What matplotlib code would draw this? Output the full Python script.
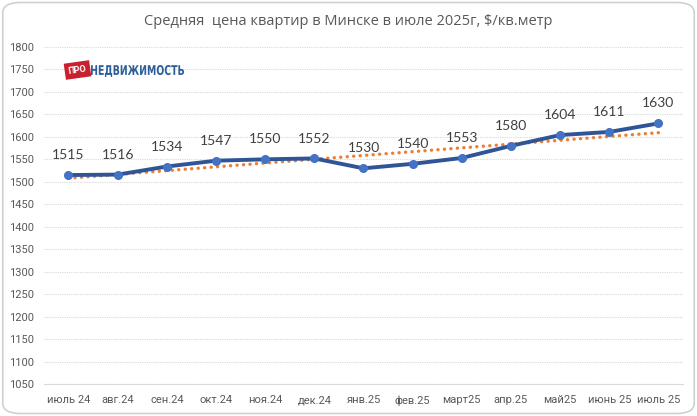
import numpy as np
import matplotlib.pyplot as plt
from matplotlib.patches import FancyBboxPatch, PathPatch
from matplotlib.textpath import TextPath
from matplotlib.font_manager import FontProperties
from matplotlib.transforms import Affine2D

months = ['июль 24', 'авг.24', 'сен.24', 'окт.24', 'ноя.24', 'дек.24', 'янв.25',
          'фев.25', 'март25', 'апр.25', 'май25', 'июнь 25', 'июль 25']
prices = [1515, 1516, 1534, 1547, 1550, 1552, 1530, 1540, 1553, 1580, 1604, 1611, 1630]

W, H = 697, 416
fig = plt.figure(figsize=(W / 100, H / 100), dpi=100)
ax = fig.add_axes([0.063, 0.077, 0.917, 0.81])

# рамка с закруглёнными углами
frame = FancyBboxPatch((0.004, 0.006), 0.992, 0.988, boxstyle='round,pad=0,rounding_size=0.025',
                       transform=fig.transFigure, fill=False, edgecolor='#d0d0d0', linewidth=1.2)
fig.patches.append(frame)

x = np.arange(len(months))

# линия тренда
k, b = np.polyfit(x, prices, 1)
ax.plot(x, k * x + b, color='#ed7d31', linewidth=2.4, linestyle=(0, (0.05, 1.9)),
        dash_capstyle='round', zorder=2)

ax.plot(x, prices, color='#2f5597', linewidth=2.8, marker='o', markersize=5.5,
        markerfacecolor='#4472c4', markeredgecolor='#4472c4', zorder=3)

for xi, p in zip(x, prices):
    ax.annotate(str(p), (xi, p), xytext=(0, 10), textcoords='offset points',
                ha='center', va='bottom', fontsize=10, color='#404040', family='Lato')

ax.set_xlim(-0.5, len(months) - 0.5)
ax.set_ylim(1050, 1800)
ax.set_yticks(range(1050, 1801, 50))
ax.set_xticks(x)
ax.set_xticklabels(months, family='Roboto')
for lab in ax.get_yticklabels():
    lab.set_family('Roboto')
ax.tick_params(axis='both', length=0, labelsize=8, colors='#595959')
ax.tick_params(axis='x', pad=8)
ax.tick_params(axis='y', pad=7)
ax.yaxis.grid(True, color='#d9d9d9', linestyle=(0, (1, 1)), linewidth=0.8)
ax.set_axisbelow(True)
for side in ['top', 'right', 'left']:
    ax.spines[side].set_visible(False)
ax.spines['bottom'].set_color('#d9d9d9')

fig.text(0.5, 0.948, 'Средняя  цена квартир в Минске в июле 2025г, $/кв.метр',
         ha='center', va='center', fontsize=10.5, color='#595959', family='Open Sans')

# логотип
fig.text(77.5 / W, 1 - 70 / H, 'ПРО', ha='center', va='center', fontsize=6.5, color='white',
         fontweight='bold', rotation=8, family='Roboto',
         bbox=dict(boxstyle='square,pad=0.4', facecolor='#c8202f', edgecolor='none'))
tp = TextPath((0, 0), 'НЕДВИЖИМОСТЬ', size=10,
              prop=FontProperties(family='DejaVu Sans', weight='bold'))
ext = tp.get_extents()
sx = (184 - 91) / ext.width
sy = 12 / ext.height
tr = Affine2D().translate(-ext.x0, -ext.y0).scale(sx, sy).translate(91, H - 77)
fig.patches.append(PathPatch(tr.transform_path(tp), transform=None, facecolor='#2d5f9a',
                             edgecolor='none'))

fig.savefig('out.png', dpi=100)
